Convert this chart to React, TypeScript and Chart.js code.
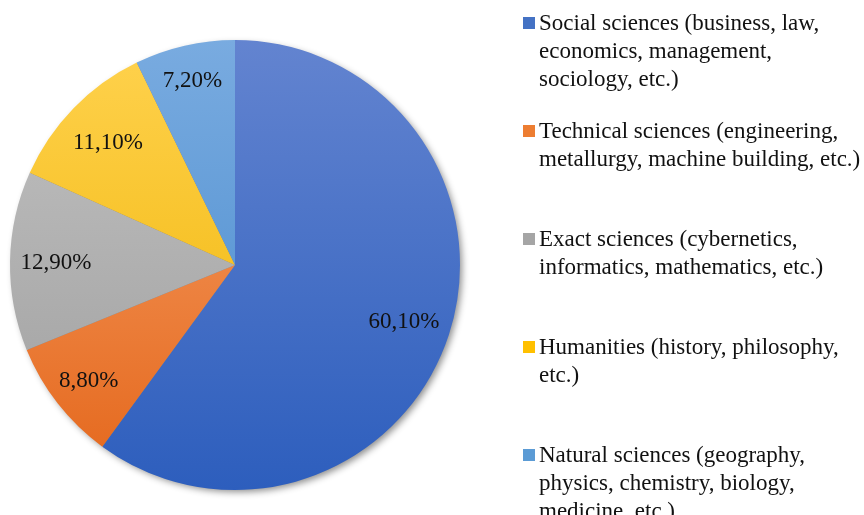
import React, { useEffect, useRef } from "react";
import { Chart, registerables } from "chart.js";

Chart.register(...registerables);

const categories: string[][] = [
  ["Social sciences (business, law,", "economics, management,", "sociology, etc.)"],
  ["Technical sciences (engineering,", "metallurgy, machine building, etc.)"],
  ["Exact sciences (cybernetics,", "informatics, mathematics, etc.)"],
  ["Humanities (history, philosophy,", "etc.)"],
  ["Natural sciences (geography,", "physics, chemistry, biology,", "medicine, etc.)"],
];
const shares = [60.1, 8.8, 12.9, 11.1, 7.2];
const valueLabels = ["60,10%", "8,80%", "12,90%", "11,10%", "7,20%"];

const topColors = ["#6384d0", "#f7a36c", "#c2c2c2", "#ffd24e", "#79abe0"];
const bottomColors = ["#2d5ebd", "#e4661a", "#9e9e9e", "#eeb200", "#4589cc"];
const markerColors = ["#4472c4", "#ed7d31", "#a5a5a5", "#ffc000", "#5b9bd5"];
const labelRadius = [0.79, 0.825, 0.796, 0.787, 0.846];

const FONT = "'Liberation Serif', 'Times New Roman', serif";

export default function App() {
  const ref = useRef<HTMLCanvasElement | null>(null);

  useEffect(() => {
    if (!ref.current) return;

    const shadowPlugin = {
      id: "pieShadow",
      beforeDatasetsDraw(chart: any) {
        const meta = chart.getDatasetMeta(0);
        const arc = meta.data[0];
        if (!arc) return;
        const { x, y, outerRadius } = arc.getProps(["x", "y", "outerRadius"], true);
        const ctx = chart.ctx;
        ctx.save();
        ctx.shadowColor = "rgba(0,0,0,0.45)";
        ctx.shadowBlur = 7;
        ctx.shadowOffsetX = 3;
        ctx.shadowOffsetY = 3;
        ctx.fillStyle = "#808080";
        ctx.beginPath();
        ctx.arc(x, y, outerRadius - 1, 0, Math.PI * 2);
        ctx.fill();
        ctx.restore();
      },
    };

    const labelPlugin = {
      id: "sliceLabels",
      afterDatasetsDraw(chart: any) {
        const ctx = chart.ctx;
        const meta = chart.getDatasetMeta(0);
        ctx.save();
        ctx.font = `23px ${FONT}`;
        ctx.fillStyle = "#111111";
        ctx.textAlign = "center";
        ctx.textBaseline = "alphabetic";
        meta.data.forEach((arc: any, i: number) => {
          const p = arc.getProps(["x", "y", "startAngle", "endAngle", "outerRadius"], true);
          const mid = (p.startAngle + p.endAngle) / 2;
          const r = p.outerRadius * labelRadius[i];
          ctx.fillText(valueLabels[i], p.x + Math.cos(mid) * r, p.y + Math.sin(mid) * r + 7.5);
        });
        ctx.restore();
      },
    };

    const legendPlugin = {
      id: "sideLegend",
      afterDraw(chart: any) {
        const ctx = chart.ctx;
        ctx.save();
        ctx.font = `23px ${FONT}`;
        ctx.textAlign = "left";
        ctx.textBaseline = "alphabetic";
        categories.forEach((lines, i) => {
          const base = 30 + i * 108;
          ctx.fillStyle = markerColors[i];
          ctx.fillRect(523, base - 13, 12, 12);
          ctx.fillStyle = "#111111";
          lines.forEach((line, k) => {
            ctx.fillText(line, 539, base + k * 28);
          });
        });
        ctx.restore();
      },
    };

    const chart = new Chart(ref.current, {
      type: "pie",
      data: {
        labels: categories.map((c) => c.join(" ")),
        datasets: [
          {
            data: shares,
            borderWidth: 0,
            backgroundColor: (c: any) => {
              const area = c.chart.chartArea;
              if (!area) return markerColors[c.dataIndex];
              const g = c.chart.ctx.createLinearGradient(0, area.top, 0, area.bottom);
              g.addColorStop(0, topColors[c.dataIndex]);
              g.addColorStop(1, bottomColors[c.dataIndex]);
              return g;
            },
          },
        ],
      },
      options: {
        responsive: false,
        animation: false,
        layout: { padding: { left: 10, right: 404, top: 40, bottom: 25 } },
        plugins: {
          legend: { display: false },
          tooltip: { enabled: false },
        },
      },
      plugins: [shadowPlugin, labelPlugin, legendPlugin],
    });

    return () => chart.destroy();
  }, []);

  return (
    <div style={{ position: "absolute", left: 0, top: 0, width: 864, height: 515, background: "#ffffff" }}>
      <canvas ref={ref} width={864} height={515} />
    </div>
  );
}
